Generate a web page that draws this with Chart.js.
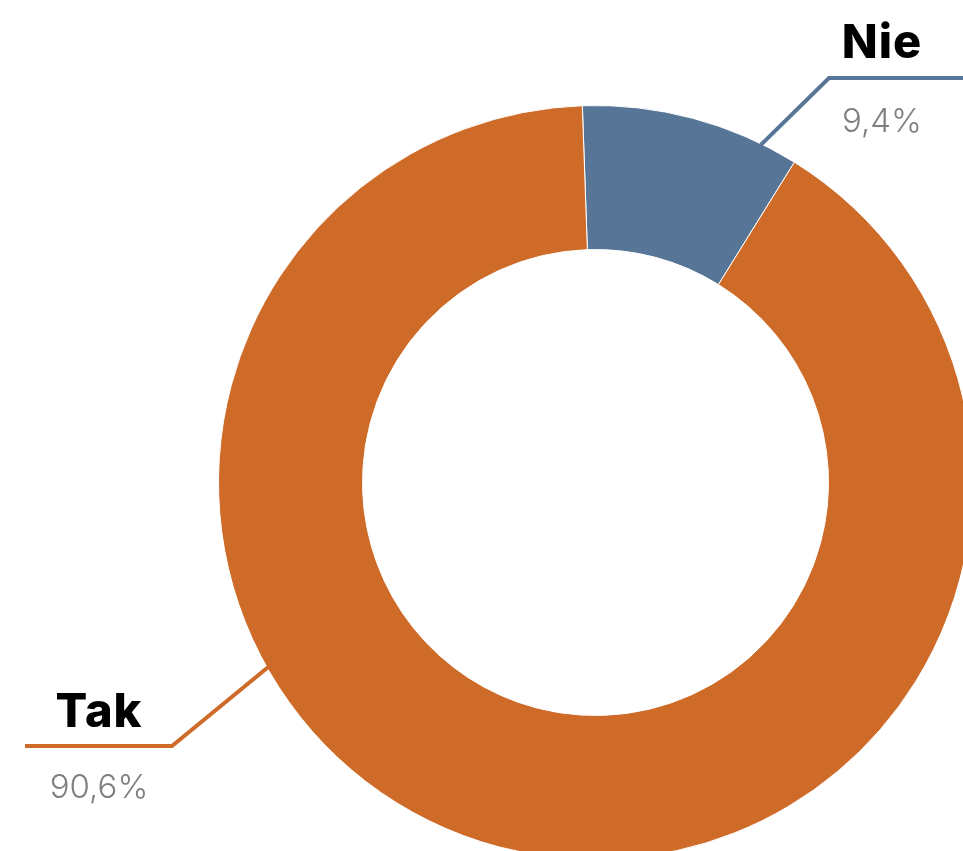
<!DOCTYPE html>
<html>
<head>
<meta charset="utf-8">
<script src="https://cdn.jsdelivr.net/npm/chart.js@4.4.1/dist/chart.umd.min.js"></script>
<style>
html,body{margin:0;padding:0;background:#fff;overflow:hidden;width:963px;height:851px;}
#wrap{position:absolute;left:0;top:0;width:1000px;height:900px;}
</style>
</head>
<body>
<div id="wrap"><canvas id="c" width="1000" height="900"></canvas></div>
<script>
const categories = ['Nie', 'Tak'];
const values = [9.4, 90.6];
const valueLabels = ['9,4%', '90,6%'];
const colors = ['#577596', '#CE6B29'];

// leader-line layout (annotation positions, not data)
const leaders = [
  {anchorFrac: 0.83, elbow: [829, 78], end: [963, 78], textX: 882, nameY: 58, valueY: 132},
  {anchorFrac: 0.64, elbow: [172, 746], end: [25, 746], textX: 99, nameY: 727, valueY: 798}
];

const leaderPlugin = {
  id: 'leaders',
  afterDatasetsDraw(chart) {
    const ctx = chart.ctx;
    const meta = chart.getDatasetMeta(0);
    meta.data.forEach((arc, i) => {
      const p = arc.getProps(['x', 'y', 'startAngle', 'endAngle', 'outerRadius'], true);
      const L = leaders[i];
      const a = p.startAngle + L.anchorFrac * (p.endAngle - p.startAngle);
      const ax = p.x + (p.outerRadius - 1) * Math.cos(a);
      const ay = p.y + (p.outerRadius - 1) * Math.sin(a);
      ctx.save();
      ctx.strokeStyle = colors[i];
      ctx.lineWidth = 4;
      ctx.lineJoin = 'miter';
      ctx.beginPath();
      ctx.moveTo(ax, ay);
      ctx.lineTo(L.elbow[0], L.elbow[1]);
      ctx.lineTo(L.end[0], L.end[1]);
      ctx.stroke();
      ctx.textAlign = 'center';
      ctx.textBaseline = 'alphabetic';
      ctx.fillStyle = '#000';
      ctx.font = '800 47px Inter, "Noto Sans", sans-serif';
      if ('letterSpacing' in ctx) ctx.letterSpacing = '1px';
      ctx.fillText(categories[i], L.textX, L.nameY);
      if ('letterSpacing' in ctx) ctx.letterSpacing = '0px';
      ctx.fillStyle = '#808080';
      ctx.font = '300 33px Inter, "Noto Sans", sans-serif';
      ctx.fillText(valueLabels[i], L.textX, L.valueY);
      ctx.restore();
    });
  }
};

new Chart(document.getElementById('c'), {
  type: 'doughnut',
  data: {
    labels: categories,
    datasets: [{
      data: values,
      backgroundColor: colors,
      borderColor: '#ffffff',
      borderWidth: 1
    }]
  },
  options: {
    responsive: false,
    animation: false,
    rotation: -2,
    cutout: 233,
    layout: {padding: {left: 218, top: 105, right: 27, bottom: 40}},
    plugins: {legend: {display: false}, tooltip: {enabled: false}}
  },
  plugins: [leaderPlugin]
});
</script>
</body>
</html>
